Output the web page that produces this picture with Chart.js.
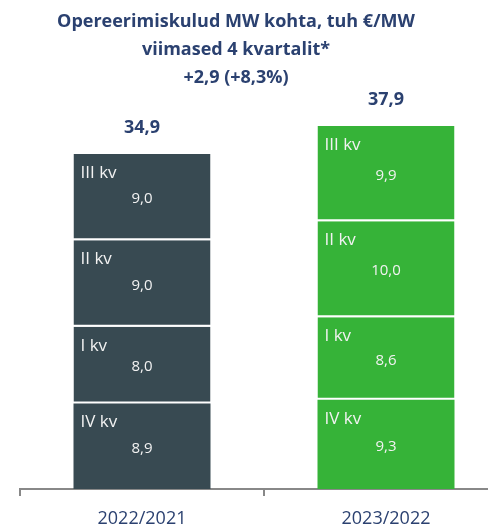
<!DOCTYPE html>
<html>
<head>
<meta charset="utf-8">
<script src="https://cdn.jsdelivr.net/npm/chart.js@4/dist/chart.umd.min.js"></script>
<style>
html, body { margin: 0; padding: 0; overflow: hidden; background: #ffffff; }
canvas { display: block; }
</style>
</head>
<body>
<canvas id="c" width="508" height="527"></canvas>
<script>
const categories = ['2022/2021', '2023/2022'];
const quarterNames = ['IV kv', 'I kv', 'II kv', 'III kv'];
const q4Values = [8.9, 9.3];
const q1Values = [8.0, 8.6];
const q2Values = [9.0, 10.0];
const q3Values = [9.0, 9.9];
const totals = [34.9, 37.9];
const titleLines = ['Opereerimiskulud MW kohta, tuh €/MW', 'viimased 4 kvartalit*', '+2,9 (+8,3%)'];
const barColors = ['#384A52', '#36B338'];
const navy = '#2B4170';

const fmt = v => v.toFixed(1).replace('.', ',');
const seriesValues = [q4Values, q1Values, q2Values, q3Values];

const datasets = seriesValues.map((vals, i) => ({
  label: quarterNames[i],
  data: vals,
  backgroundColor: barColors,
  borderColor: '#ffffff',
  borderWidth: i === 0 ? 0 : { top: 0, bottom: 2, left: 0, right: 0 },
  borderSkipped: false,
  barPercentage: 0.5615,
  categoryPercentage: 1.0
}));

const labelPlugin = {
  id: 'labels',
  afterDatasetsDraw(chart) {
    const ctx = chart.ctx;
    ctx.save();
    chart.data.datasets.forEach((ds, di) => {
      const meta = chart.getDatasetMeta(di);
      meta.data.forEach((el, i) => {
        const top = Math.min(el.y, el.base);
        const bottom = Math.max(el.y, el.base);
        const left = el.x - el.width / 2;
        ctx.fillStyle = '#f2f2f2';
        ctx.textBaseline = 'middle';
        ctx.textAlign = 'left';
        ctx.font = '17px "Open Sans"';
        ctx.fillText(ds.label, left + 7, top + 19);
        ctx.textAlign = 'center';
        ctx.font = '15px "Open Sans"';
        ctx.fillText(fmt(ds.data[i]), el.x, (top + bottom) / 2 + 2);
      });
    });
    const topMeta = chart.getDatasetMeta(chart.data.datasets.length - 1);
    topMeta.data.forEach((el, i) => {
      ctx.fillStyle = navy;
      ctx.textAlign = 'center';
      ctx.textBaseline = 'middle';
      ctx.font = 'bold 18px "Open Sans"';
      ctx.fillText(fmt(totals[i]), el.x, el.y - 26);
    });
    const cx = chart.chartArea.left + 216;
    ctx.font = 'bold 18px "Open Sans"';
    ctx.fillStyle = navy;
    ctx.textAlign = 'center';
    ctx.textBaseline = 'middle';
    titleLines.forEach((t, i) => ctx.fillText(t, cx, 22 + i * 28));
    ctx.restore();
  }
};

new Chart(document.getElementById('c'), {
  type: 'bar',
  data: { labels: categories, datasets },
  options: {
    responsive: false,
    animation: false,
    devicePixelRatio: 1,
    layout: { padding: { left: 20, right: 0, top: 105, bottom: 0 } },
    plugins: { legend: { display: false }, title: { display: false }, tooltip: { enabled: false } },
    scales: {
      x: {
        stacked: true,
        grid: { display: true, drawOnChartArea: false, drawTicks: true, tickLength: 7, offset: true, color: '#888888', lineWidth: 2 },
        border: { display: true, color: '#888888', width: 2 },
        ticks: { color: navy, font: { family: '"Open Sans"', size: 18 }, padding: 12 },
        afterFit(scale) { scale.height = 38; }
      },
      y: {
        stacked: true,
        display: false,
        min: 0,
        max: 40
      }
    }
  },
  plugins: [labelPlugin]
});
</script>
</body>
</html>
